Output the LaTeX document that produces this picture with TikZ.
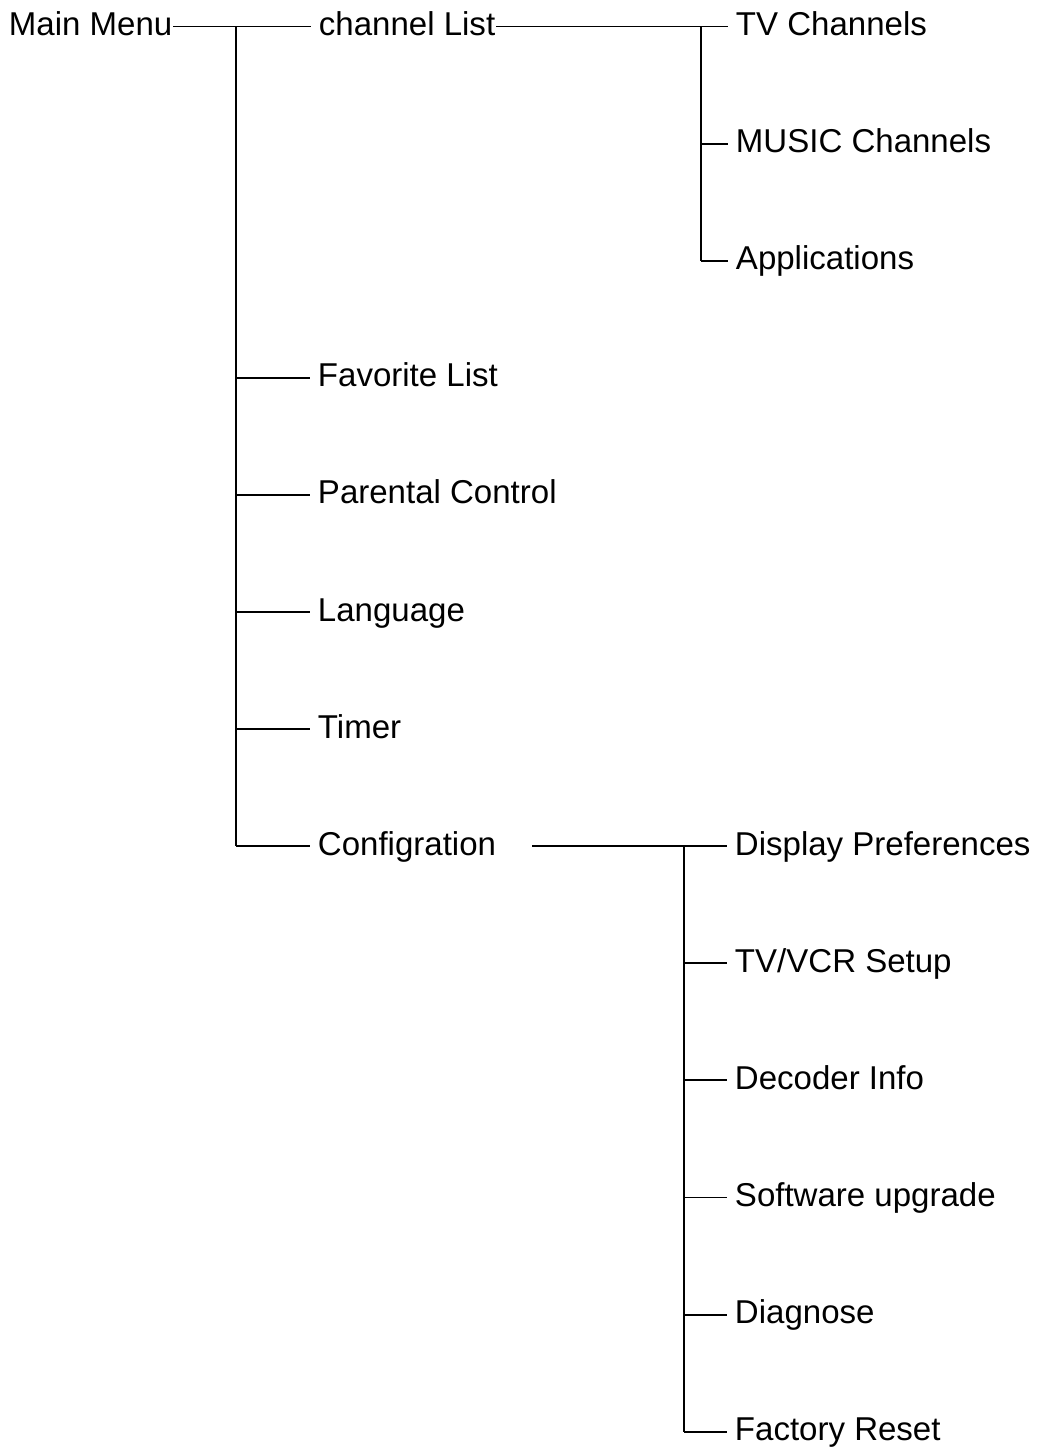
\documentclass[tikz,border=0pt]{standalone}
\usepackage{fontspec}
\setmainfont{Liberation Sans}
\usetikzlibrary{calc,positioning}
\tikzstyle{item} = [inner sep=0pt, anchor=west, text height=0.36cm, text depth=0pt, font=\fontsize{18.8}{22}\selectfont]
\tikzstyle{branch} = [shorten >=0.14cm]

\begin{document}
\begin{tikzpicture}[x=0.02cm,y=-0.02cm,line width=1.1pt]
      \pgfmathsetmacro{\Rowgap}{117.1};
      \useasboundingbox (0,0) rectangle (1038,1449);
      \node[item] (MainMenu) at (8,26.5) {Main Menu};
      \node[item] (ChannelList) at (318,26.5) {channel List};
      \node[item] (FavoriteList) at (317,{26.5+3*\Rowgap}) {Favorite List};
      \node[item] (ParentalControl) at (317,{26.5+4*\Rowgap}) {Parental Control};
      \node[item] (Language) at (317,{26.5+5*\Rowgap}) {Language};
      \node[item] (Timer) at (317,{26.5+6*\Rowgap}) {Timer};
      \node[item] (Configration) at (317,{26.5+7*\Rowgap}) {Configration};
      %
      \node[item] (TVChannels) at (735,26.5) {TV Channels};
      \node[item] (MusicChannels) at (735,{26.5+\Rowgap}) {MUSIC Channels};
      \node[item] (Applications) at (735,{26.5+2*\Rowgap}) {Applications};
      %
      \node[item] (DisplayPref) at (734,{26.5+7*\Rowgap}) {Display Preferences};
      \node[item] (VCRSetup) at (734,{26.5+8*\Rowgap}) {TV/VCR Setup};
      \node[item] (DecoderInfo) at (734,{26.5+9*\Rowgap}) {Decoder Info};
      \node[item] (SoftwareUpgrade) at (734,{26.5+10*\Rowgap}) {Software upgrade};
      \node[item] (Diagnose) at (734,{26.5+11*\Rowgap}) {Diagnose};
      \node[item] (FactoryReset) at (734,{26.5+12*\Rowgap}) {Factory Reset};
      %
      \coordinate (MainTrunk) at (236,26.5);
      \coordinate (ChannelTrunk) at (701,26.5);
      \coordinate (ConfigTrunk) at (684,{26.5+7*\Rowgap});
      %
      \draw[branch] (MainMenu.east) -- (ChannelList.west);
      \draw (MainTrunk) -- (MainTrunk |- Configration.west);
      \draw[branch] (MainTrunk |- FavoriteList.west) -- (FavoriteList.west);
      \draw[branch] (MainTrunk |- ParentalControl.west) -- (ParentalControl.west);
      \draw[branch] (MainTrunk |- Language.west) -- (Language.west);
      \draw[branch] (MainTrunk |- Timer.west) -- (Timer.west);
      \draw[branch] (MainTrunk |- Configration.west) -- (Configration.west);
      %
      \draw[branch] (ChannelList.east) -- (TVChannels.west);
      \draw (ChannelTrunk) -- (ChannelTrunk |- Applications.west);
      \draw[branch] (ChannelTrunk |- MusicChannels.west) -- (MusicChannels.west);
      \draw[branch] (ChannelTrunk |- Applications.west) -- (Applications.west);
      %
      \draw[branch, shorten <=0.7cm] (Configration.east) -- (DisplayPref.west);
      \draw (ConfigTrunk) -- (ConfigTrunk |- FactoryReset.west);
      \draw[branch] (ConfigTrunk |- VCRSetup.west) -- (VCRSetup.west);
      \draw[branch] (ConfigTrunk |- DecoderInfo.west) -- (DecoderInfo.west);
      \draw[branch] (ConfigTrunk |- SoftwareUpgrade.west) -- (SoftwareUpgrade.west);
      \draw[branch] (ConfigTrunk |- Diagnose.west) -- (Diagnose.west);
      \draw[branch] (ConfigTrunk |- FactoryReset.west) -- (FactoryReset.west);
    \end{tikzpicture}
\end{document}
